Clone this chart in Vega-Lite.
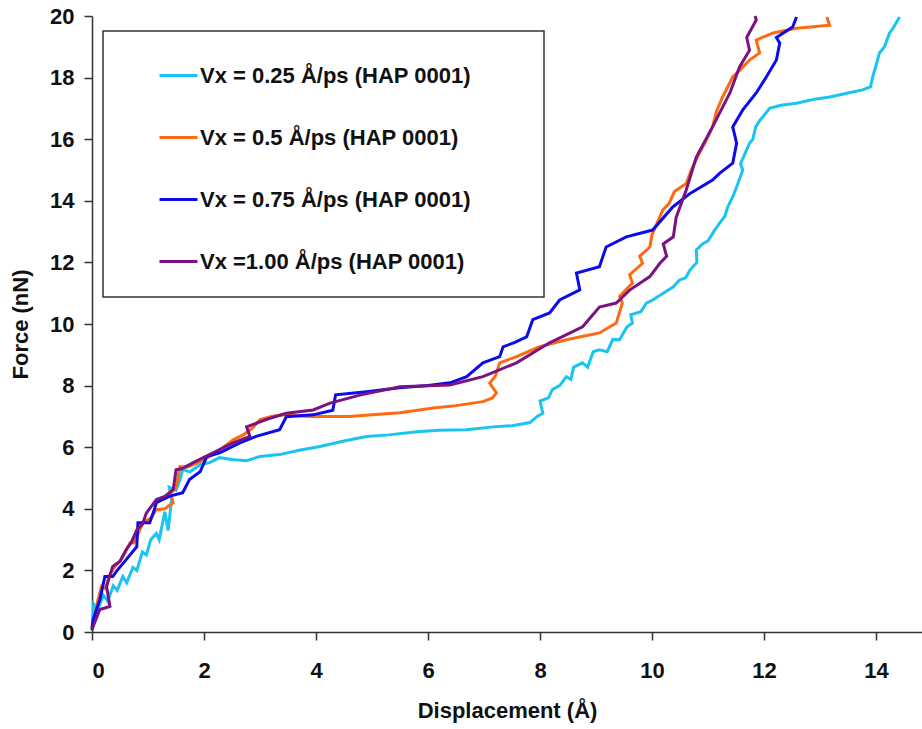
{
  "$schema": "https://vega.github.io/schema/vega-lite/v6.json",
  "autosize": "none",
  "width": 830,
  "height": 616,
  "padding": {"left": 92, "top": 16, "right": 0, "bottom": 97},
  "background": "white",
  "config": {
    "view": {"stroke": null},
    "axis": {
      "domainColor": "#333333", "domainWidth": 1.5, "tickColor": "#333333", "tickWidth": 1.5, "tickSize": 8,
      "labelFont": "Liberation Sans", "labelFontWeight": "bold", "labelFontSize": 22, "labelColor": "#111111",
      "titleFont": "Liberation Sans", "titleFontWeight": "bold", "titleFontSize": 22, "titleColor": "#111111",
      "grid": false
    },
    "legend": {
      "orient": "none", "legendX": 11, "legendY": 15, "padding": 24,
      "strokeColor": "#333333", "strokeWidth": 1.5, "fillColor": "white",
      "symbolType": "stroke", "symbolSize": 1444, "symbolStrokeWidth": 3, "symbolOffset": 31,
      "labelOffset": 1, "rowPadding": 30, "labelFont": "Liberation Sans", "labelFontWeight": "bold",
      "labelFontSize": 22, "labelColor": "#111111", "labelLimit": 0, "title": null
    }
  },
  "layer": [
    {
      "data": {"values": [
        {"i":0,"x":0,"y":0.05},{"i":1,"x":0.03,"y":0.9},{"i":2,"x":0.1,"y":0.7},{"i":3,"x":0.2,"y":1.2},{"i":4,"x":0.28,"y":1.0},{"i":5,"x":0.38,"y":1.5},{"i":6,"x":0.45,"y":1.35},{"i":7,"x":0.55,"y":1.8},{"i":8,"x":0.62,"y":1.6},{"i":9,"x":0.73,"y":2.1},{"i":10,"x":0.8,"y":2.0},{"i":11,"x":0.9,"y":2.6},{"i":12,"x":0.97,"y":2.5},{"i":13,"x":1.05,"y":3.0},{"i":14,"x":1.15,"y":3.2},{"i":15,"x":1.2,"y":3.0},{"i":16,"x":1.3,"y":3.9},{"i":17,"x":1.36,"y":3.3},{"i":18,"x":1.42,"y":4.3},{"i":19,"x":1.38,"y":4.7},{"i":20,"x":1.5,"y":4.6},{"i":21,"x":1.57,"y":4.95},{"i":22,"x":1.62,"y":5.27},{"i":23,"x":1.75,"y":5.2},{"i":24,"x":1.93,"y":5.43},{"i":25,"x":2.1,"y":5.5},{"i":26,"x":2.28,"y":5.66},{"i":27,"x":2.5,"y":5.6},{"i":28,"x":2.76,"y":5.56},{"i":29,"x":3.0,"y":5.7},{"i":30,"x":3.35,"y":5.76},{"i":31,"x":3.7,"y":5.9},{"i":32,"x":4.07,"y":6.02},{"i":33,"x":4.5,"y":6.2},{"i":34,"x":4.9,"y":6.35},{"i":35,"x":5.3,"y":6.4},{"i":36,"x":5.8,"y":6.5},{"i":37,"x":6.2,"y":6.55},{"i":38,"x":6.69,"y":6.57},{"i":39,"x":7.16,"y":6.66},{"i":40,"x":7.5,"y":6.7},{"i":41,"x":7.82,"y":6.8},{"i":42,"x":7.95,"y":7.0},{"i":43,"x":8.05,"y":7.1},{"i":44,"x":8.0,"y":7.5},{"i":45,"x":8.15,"y":7.6},{"i":46,"x":8.22,"y":7.87},{"i":47,"x":8.35,"y":8.0},{"i":48,"x":8.47,"y":8.29},{"i":49,"x":8.55,"y":8.2},{"i":50,"x":8.6,"y":8.6},{"i":51,"x":8.76,"y":8.74},{"i":52,"x":8.85,"y":8.6},{"i":53,"x":8.95,"y":9.1},{"i":54,"x":9.06,"y":9.16},{"i":55,"x":9.2,"y":9.1},{"i":56,"x":9.3,"y":9.5},{"i":57,"x":9.42,"y":9.49},{"i":58,"x":9.55,"y":9.9},{"i":59,"x":9.65,"y":10.03},{"i":60,"x":9.62,"y":10.3},{"i":61,"x":9.8,"y":10.4},{"i":62,"x":9.9,"y":10.68},{"i":63,"x":10.01,"y":10.78},{"i":64,"x":10.2,"y":11.0},{"i":65,"x":10.38,"y":11.21},{"i":66,"x":10.49,"y":11.43},{"i":67,"x":10.6,"y":11.5},{"i":68,"x":10.68,"y":11.76},{"i":69,"x":10.8,"y":12.0},{"i":70,"x":10.79,"y":12.4},{"i":71,"x":10.9,"y":12.6},{"i":72,"x":11.0,"y":12.7},{"i":73,"x":11.1,"y":13.0},{"i":74,"x":11.21,"y":13.28},{"i":75,"x":11.3,"y":13.5},{"i":76,"x":11.35,"y":13.8},{"i":77,"x":11.44,"y":14.13},{"i":78,"x":11.5,"y":14.4},{"i":79,"x":11.62,"y":15.0},{"i":80,"x":11.58,"y":15.2},{"i":81,"x":11.74,"y":15.87},{"i":82,"x":11.8,"y":16.0},{"i":83,"x":11.85,"y":16.4},{"i":84,"x":11.92,"y":16.6},{"i":85,"x":12.1,"y":17.0},{"i":86,"x":12.3,"y":17.1},{"i":87,"x":12.58,"y":17.17},{"i":88,"x":12.9,"y":17.3},{"i":89,"x":13.17,"y":17.37},{"i":90,"x":13.5,"y":17.5},{"i":91,"x":13.76,"y":17.6},{"i":92,"x":13.9,"y":17.7},{"i":93,"x":13.94,"y":18.02},{"i":94,"x":14.0,"y":18.4},{"i":95,"x":14.06,"y":18.8},{"i":96,"x":14.15,"y":19.0},{"i":97,"x":14.24,"y":19.45},{"i":98,"x":14.3,"y":19.6},{"i":99,"x":14.42,"y":19.97}
      ]},
      "mark": {"type": "line", "strokeWidth": 3},
      "encoding": {
        "x": {"field": "x", "type": "quantitative", "scale": {"domain": [0, 14.82], "nice": false},
              "axis": {"values": [0,2,4,6,8,10,12,14], "format": "d", "title": "Displacement (Å)", "labelPadding": 20, "titlePadding": 19}},
        "y": {"field": "y", "type": "quantitative", "scale": {"domain": [0, 20], "nice": false},
              "axis": {"values": [0,2,4,6,8,10,12,14,16,18,20], "format": "d", "title": "Force (nN)", "labelPadding": 10, "titlePadding": 17}},
        "order": {"field": "i", "type": "quantitative"},
        "color": {"datum": "Vx = 0.25 Å/ps (HAP 0001)", "type": "nominal",
          "scale": {"domain": ["Vx = 0.25 Å/ps (HAP 0001)", "Vx = 0.5 Å/ps (HAP 0001)", "Vx = 0.75 Å/ps (HAP 0001)", "Vx =1.00 Å/ps (HAP 0001)"],
                    "range": ["#19C4F2", "#FF6A10", "#0B0BEB", "#7A1283"]},
          "legend": {"labelExpr": "datum.label + '\u00a0\u00a0\u00a0\u00a0\u00a0\u00a0\u00a0\u00a0\u200b'"}}
      }
    },
    {
      "data": {"values": [
        {"i":0,"x":0,"y":0.1},{"i":1,"x":0.02,"y":0.2},{"i":2,"x":0.1,"y":1.0},{"i":3,"x":0.17,"y":1.48},{"i":4,"x":0.25,"y":1.4},{"i":5,"x":0.3,"y":1.8},{"i":6,"x":0.4,"y":2.1},{"i":7,"x":0.5,"y":2.3},{"i":8,"x":0.55,"y":2.45},{"i":9,"x":0.68,"y":2.9},{"i":10,"x":0.75,"y":2.9},{"i":11,"x":0.85,"y":3.3},{"i":12,"x":0.91,"y":3.55},{"i":13,"x":1.05,"y":3.7},{"i":14,"x":1.15,"y":3.97},{"i":15,"x":1.3,"y":4.0},{"i":16,"x":1.45,"y":4.2},{"i":17,"x":1.4,"y":4.5},{"i":18,"x":1.5,"y":4.7},{"i":19,"x":1.57,"y":5.37},{"i":20,"x":1.7,"y":5.35},{"i":21,"x":1.93,"y":5.53},{"i":22,"x":2.2,"y":5.8},{"i":23,"x":2.52,"y":6.24},{"i":24,"x":2.7,"y":6.4},{"i":25,"x":2.87,"y":6.63},{"i":26,"x":3.0,"y":6.9},{"i":27,"x":3.2,"y":7.0},{"i":28,"x":3.41,"y":7.05},{"i":29,"x":3.9,"y":7.0},{"i":30,"x":4.3,"y":7.0},{"i":31,"x":4.6,"y":7.0},{"i":32,"x":5.0,"y":7.05},{"i":33,"x":5.5,"y":7.12},{"i":34,"x":6.09,"y":7.27},{"i":35,"x":6.5,"y":7.35},{"i":36,"x":6.98,"y":7.48},{"i":37,"x":7.15,"y":7.6},{"i":38,"x":7.22,"y":7.76},{"i":39,"x":7.1,"y":8.08},{"i":40,"x":7.2,"y":8.3},{"i":41,"x":7.28,"y":8.74},{"i":42,"x":7.58,"y":8.94},{"i":43,"x":7.99,"y":9.26},{"i":44,"x":8.47,"y":9.49},{"i":45,"x":9.06,"y":9.71},{"i":46,"x":9.36,"y":10.03},{"i":47,"x":9.47,"y":10.68},{"i":48,"x":9.42,"y":10.9},{"i":49,"x":9.65,"y":11.33},{"i":50,"x":9.6,"y":11.6},{"i":51,"x":9.83,"y":11.97},{"i":52,"x":9.78,"y":12.2},{"i":53,"x":9.96,"y":12.5},{"i":54,"x":10.0,"y":12.9},{"i":55,"x":10.19,"y":13.7},{"i":56,"x":10.3,"y":13.9},{"i":57,"x":10.4,"y":14.3},{"i":58,"x":10.61,"y":14.56},{"i":59,"x":10.7,"y":15.0},{"i":60,"x":10.84,"y":15.53},{"i":61,"x":10.95,"y":15.9},{"i":62,"x":11.08,"y":16.4},{"i":63,"x":11.15,"y":16.9},{"i":64,"x":11.26,"y":17.37},{"i":65,"x":11.44,"y":18.02},{"i":66,"x":11.6,"y":18.3},{"i":67,"x":11.74,"y":18.57},{"i":68,"x":11.92,"y":18.8},{"i":69,"x":11.86,"y":19.22},{"i":70,"x":12.16,"y":19.45},{"i":71,"x":12.58,"y":19.6},{"i":72,"x":13.17,"y":19.7},{"i":73,"x":13.12,"y":19.97}
      ]},
      "mark": {"type": "line", "strokeWidth": 3},
      "encoding": {
        "x": {"field": "x", "type": "quantitative"},
        "y": {"field": "y", "type": "quantitative"},
        "order": {"field": "i", "type": "quantitative"},
        "color": {"datum": "Vx = 0.5 Å/ps (HAP 0001)", "type": "nominal"}
      }
    },
    {
      "data": {"values": [
        {"i":0,"x":0,"y":0.1},{"i":1,"x":0.02,"y":0.4},{"i":2,"x":0.14,"y":1.05},{"i":3,"x":0.23,"y":1.8},{"i":4,"x":0.37,"y":1.8},{"i":5,"x":0.45,"y":2.0},{"i":6,"x":0.61,"y":2.35},{"i":7,"x":0.8,"y":2.77},{"i":8,"x":0.82,"y":3.55},{"i":9,"x":1.03,"y":3.55},{"i":10,"x":1.1,"y":3.9},{"i":11,"x":1.15,"y":4.2},{"i":12,"x":1.39,"y":4.41},{"i":13,"x":1.62,"y":4.52},{"i":14,"x":1.74,"y":4.95},{"i":15,"x":1.93,"y":5.2},{"i":16,"x":2.05,"y":5.7},{"i":17,"x":2.28,"y":5.82},{"i":18,"x":2.64,"y":6.14},{"i":19,"x":2.93,"y":6.35},{"i":20,"x":3.35,"y":6.57},{"i":21,"x":3.47,"y":6.99},{"i":22,"x":3.95,"y":7.05},{"i":23,"x":4.3,"y":7.2},{"i":24,"x":4.35,"y":7.7},{"i":25,"x":4.9,"y":7.8},{"i":26,"x":5.49,"y":7.93},{"i":27,"x":6.0,"y":8.0},{"i":28,"x":6.39,"y":8.09},{"i":29,"x":6.69,"y":8.29},{"i":30,"x":6.98,"y":8.74},{"i":31,"x":7.28,"y":8.94},{"i":32,"x":7.34,"y":9.26},{"i":33,"x":7.55,"y":9.4},{"i":34,"x":7.76,"y":9.58},{"i":35,"x":7.87,"y":10.14},{"i":36,"x":8.17,"y":10.36},{"i":37,"x":8.35,"y":10.78},{"i":38,"x":8.71,"y":11.11},{"i":39,"x":8.65,"y":11.65},{"i":40,"x":9.06,"y":11.86},{"i":41,"x":9.18,"y":12.5},{"i":42,"x":9.54,"y":12.83},{"i":43,"x":10.01,"y":13.05},{"i":44,"x":10.37,"y":13.8},{"i":45,"x":10.68,"y":14.24},{"i":46,"x":11.08,"y":14.67},{"i":47,"x":11.21,"y":14.9},{"i":48,"x":11.44,"y":15.22},{"i":49,"x":11.51,"y":15.87},{"i":50,"x":11.44,"y":16.4},{"i":51,"x":11.62,"y":16.95},{"i":52,"x":11.86,"y":17.5},{"i":53,"x":12.04,"y":18.02},{"i":54,"x":12.22,"y":18.57},{"i":55,"x":12.28,"y":19.12},{"i":56,"x":12.22,"y":19.3},{"i":57,"x":12.51,"y":19.64},{"i":58,"x":12.58,"y":19.97}
      ]},
      "mark": {"type": "line", "strokeWidth": 3},
      "encoding": {
        "x": {"field": "x", "type": "quantitative"},
        "y": {"field": "y", "type": "quantitative"},
        "order": {"field": "i", "type": "quantitative"},
        "color": {"datum": "Vx = 0.75 Å/ps (HAP 0001)", "type": "nominal"}
      }
    },
    {
      "data": {"values": [
        {"i":0,"x":0,"y":0.05},{"i":1,"x":0.02,"y":0.18},{"i":2,"x":0.14,"y":0.73},{"i":3,"x":0.32,"y":0.83},{"i":4,"x":0.26,"y":1.48},{"i":5,"x":0.37,"y":2.13},{"i":6,"x":0.5,"y":2.3},{"i":7,"x":0.61,"y":2.67},{"i":8,"x":0.7,"y":2.9},{"i":9,"x":0.8,"y":3.32},{"i":10,"x":0.9,"y":3.5},{"i":11,"x":0.97,"y":3.86},{"i":12,"x":1.15,"y":4.3},{"i":13,"x":1.3,"y":4.4},{"i":14,"x":1.45,"y":4.62},{"i":15,"x":1.5,"y":5.27},{"i":16,"x":1.6,"y":5.3},{"i":17,"x":1.8,"y":5.49},{"i":18,"x":2.16,"y":5.82},{"i":19,"x":2.52,"y":6.14},{"i":20,"x":2.82,"y":6.35},{"i":21,"x":2.76,"y":6.66},{"i":22,"x":3.11,"y":6.9},{"i":23,"x":3.47,"y":7.1},{"i":24,"x":3.95,"y":7.21},{"i":25,"x":4.25,"y":7.43},{"i":26,"x":4.8,"y":7.7},{"i":27,"x":5.5,"y":7.96},{"i":28,"x":6.39,"y":8.02},{"i":29,"x":6.98,"y":8.29},{"i":30,"x":7.58,"y":8.74},{"i":31,"x":8.17,"y":9.39},{"i":32,"x":8.76,"y":9.91},{"i":33,"x":9.06,"y":10.55},{"i":34,"x":9.36,"y":10.68},{"i":35,"x":9.6,"y":11.1},{"i":36,"x":9.96,"y":11.54},{"i":37,"x":10.14,"y":11.97},{"i":38,"x":10.26,"y":12.2},{"i":39,"x":10.2,"y":12.6},{"i":40,"x":10.38,"y":12.83},{"i":41,"x":10.43,"y":13.46},{"i":42,"x":10.61,"y":14.35},{"i":43,"x":10.79,"y":15.42},{"i":44,"x":11.08,"y":16.4},{"i":45,"x":11.39,"y":17.5},{"i":46,"x":11.56,"y":18.34},{"i":47,"x":11.74,"y":18.89},{"i":48,"x":11.69,"y":19.3},{"i":49,"x":11.86,"y":19.87},{"i":50,"x":11.84,"y":20.0}
      ]},
      "mark": {"type": "line", "strokeWidth": 3},
      "encoding": {
        "x": {"field": "x", "type": "quantitative"},
        "y": {"field": "y", "type": "quantitative"},
        "order": {"field": "i", "type": "quantitative"},
        "color": {"datum": "Vx =1.00 Å/ps (HAP 0001)", "type": "nominal"}
      }
    },
    {
      "mark": {"type": "rule", "color": "#333333", "strokeWidth": 1.5},
      "encoding": {"y": {"datum": 20}}
    },
    {
      "mark": {"type": "text", "font": "Liberation Serif", "fontSize": 30, "color": "#111111", "align": "center", "baseline": "middle"},
      "encoding": {"x": {"datum": 13.44}, "y": {"datum": 15.33}, "text": {"value": "(b)"}}
    }
  ]
}
